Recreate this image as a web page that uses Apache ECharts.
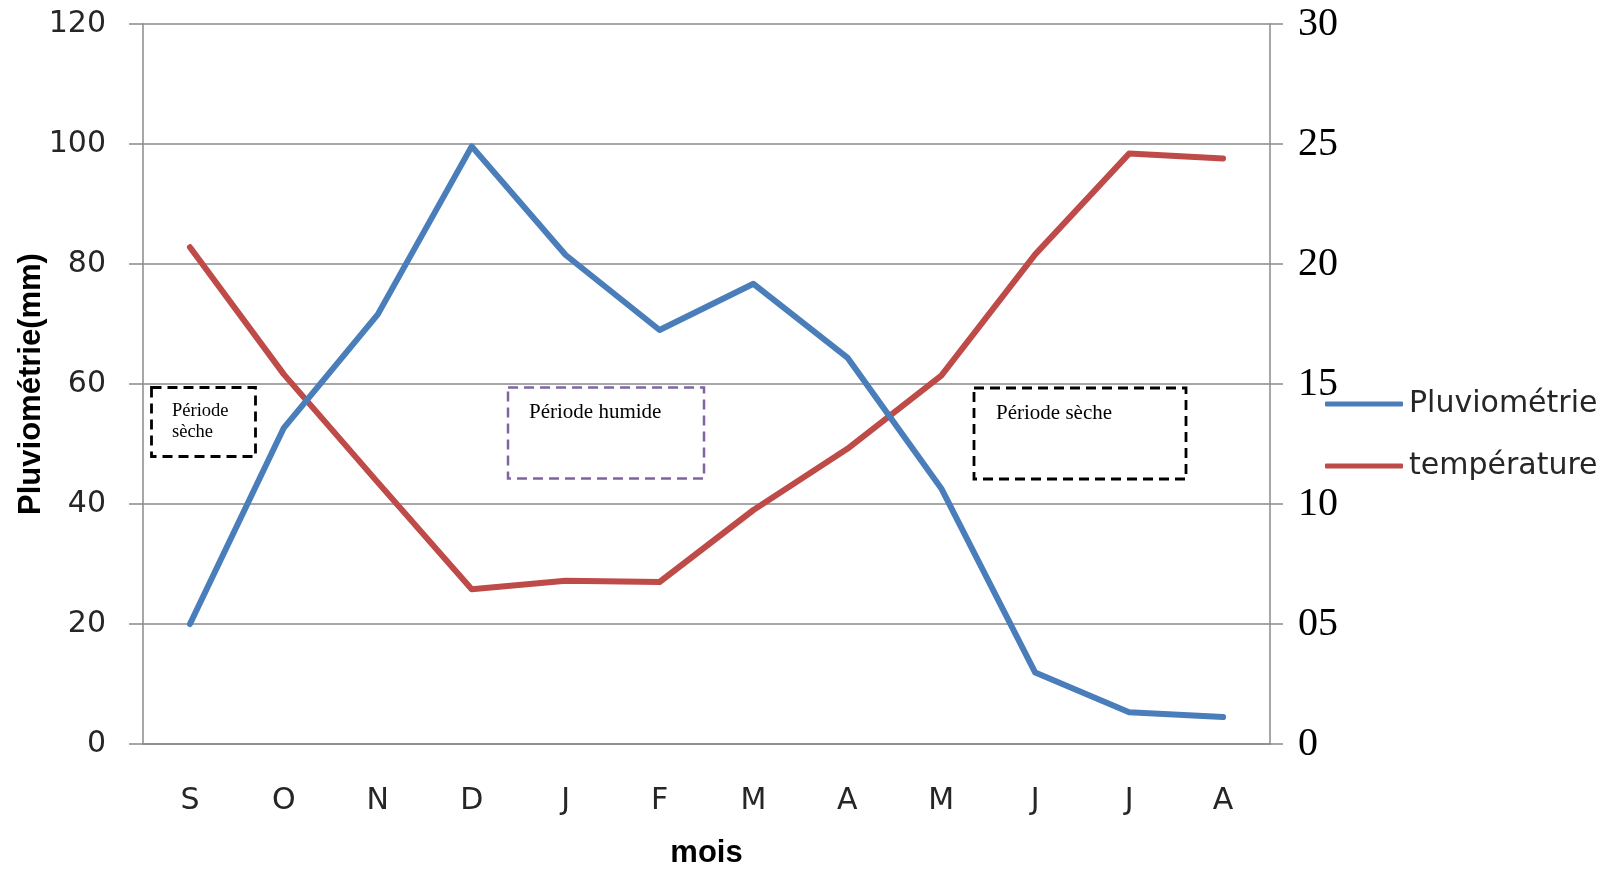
<!DOCTYPE html>
<html>
<head>
<meta charset="utf-8">
<title>Pluviométrie et température</title>
<script src="https://cdn.jsdelivr.net/npm/echarts@6/dist/echarts.min.js"></script>
<style>
  html, body { margin: 0; padding: 0; background: #ffffff; }
  #chart { width: 1619px; height: 869px; }
</style>
</head>
<body>
<div id="chart"></div>
<script>
// Months of the hydrological year, September to August
const mois = ['S', 'O', 'N', 'D', 'J', 'F', 'M', 'A', 'M', 'J', 'J', 'A'];

// Monthly rainfall (mm), left axis
const pluviometrie = [20, 52.7, 71.6, 99.6, 81.5, 69, 76.7, 64.4, 42.6, 11.9, 5.3, 4.5];

// Monthly temperature (°C), right axis
const temperature = [20.7, 15.4, 10.9, 6.45, 6.8, 6.75, 9.75, 12.3, 15.35, 20.4, 24.6, 24.4];

// Right-axis tick labels, in step of 5
const tempTickLabels = ['0', '05', '10', '15', '20', '25', '30'];

const GRID_GRAY = '#8a8a8a';
const SANS = 'DejaVu Sans';
const SANS_BOLD = 'Liberation Sans';
const SERIF = 'Liberation Serif';
const TEXT = '#262626';
const BLUE = '#4a7ebb';
const RED = '#be4b48';

const chart = echarts.init(document.getElementById('chart'), null, { renderer: 'canvas' });

chart.setOption({
  animation: false,
  backgroundColor: '#ffffff',
  grid: { left: 143, right: 349, top: 24, bottom: 125, containLabel: false, outerBoundsMode: 'none' },
  legend: {
    orient: 'vertical',
    left: 1325,
    top: 389,
    padding: 0,
    itemWidth: 78,
    itemHeight: 5,
    itemGap: 32,
    textStyle: { fontFamily: SANS, fontSize: 30, color: TEXT, padding: [0, 0, 0, 1] },
    data: [
      { name: 'Pluviométrie', icon: 'roundRect', itemStyle: { color: BLUE } },
      { name: 'température', icon: 'roundRect', itemStyle: { color: RED } }
    ]
  },
  xAxis: {
    type: 'category',
    data: mois,
    boundaryGap: true,
    name: 'mois',
    nameLocation: 'middle',
    nameGap: 94,
    nameMoveOverlap: false,
    nameTextStyle: { fontFamily: SANS_BOLD, fontSize: 31, fontWeight: 'bold', color: '#000' },
    axisLine: { show: true, lineStyle: { color: GRID_GRAY, width: 1.5 } },
    axisTick: { show: false },
    axisLabel: { fontFamily: SANS, fontSize: 30, color: TEXT, margin: 42 },
    splitLine: { show: false }
  },
  yAxis: [
    {
      type: 'value',
      position: 'left',
      min: 0,
      max: 120,
      interval: 20,
      name: 'Pluviométrie(mm)',
      nameLocation: 'middle',
      nameRotate: 90,
      nameGap: 96,
      nameMoveOverlap: false,
      nameTextStyle: { fontFamily: SANS_BOLD, fontSize: 31, fontWeight: 'bold', color: '#000' },
      axisLine: { show: true, lineStyle: { color: GRID_GRAY, width: 1.5 } },
      axisTick: { show: true, inside: false, length: 14, lineStyle: { color: GRID_GRAY, width: 1.5 } },
      axisLabel: { fontFamily: SANS, fontSize: 30, color: TEXT, margin: 37 },
      splitLine: { show: true, lineStyle: { color: GRID_GRAY, width: 1.5 } }
    },
    {
      type: 'value',
      position: 'right',
      min: 0,
      max: 30,
      interval: 5,
      axisLine: { show: true, lineStyle: { color: GRID_GRAY, width: 1.5 } },
      axisTick: { show: true, inside: false, length: 13, lineStyle: { color: GRID_GRAY, width: 1.5 } },
      axisLabel: {
        fontFamily: SERIF,
        fontSize: 40,
        color: '#000',
        margin: 28,
        formatter: (v) => tempTickLabels[Math.round(v / 5)]
      },
      splitLine: { show: false }
    }
  ],
  series: [
    {
      name: 'Pluviométrie',
      type: 'line',
      yAxisIndex: 0,
      data: pluviometrie,
      symbol: 'none',
      lineStyle: { color: BLUE, width: 6, cap: 'round', join: 'round' },
      itemStyle: { color: BLUE },
      z: 3
    },
    {
      name: 'température',
      type: 'line',
      yAxisIndex: 1,
      data: temperature,
      symbol: 'none',
      lineStyle: { color: RED, width: 6, cap: 'round', join: 'round' },
      itemStyle: { color: RED },
      z: 2
    }
  ],
  graphic: [
    // Dry season box (September)
    {
      type: 'rect', z: 10,
      shape: { x: 151.5, y: 387.5, width: 104, height: 69 },
      style: { fill: 'none', stroke: '#000', lineWidth: 2.8, lineDash: [10, 6] }
    },
    {
      type: 'text', z: 11,
      style: { text: 'Période', x: 172, y: 411, fontFamily: SERIF, fontSize: 18.5, fill: '#000', verticalAlign: 'middle' }
    },
    {
      type: 'text', z: 11,
      style: { text: 'sèche', x: 172, y: 432, fontFamily: SERIF, fontSize: 18.5, fill: '#000', verticalAlign: 'middle' }
    },
    // Wet season box
    {
      type: 'rect', z: 10,
      shape: { x: 508, y: 387.5, width: 196, height: 91 },
      style: { fill: 'none', stroke: '#8064a2', lineWidth: 2.5, lineDash: [10, 6] }
    },
    {
      type: 'text', z: 11,
      style: { text: 'Période humide', x: 529, y: 412, fontFamily: SERIF, fontSize: 21, fill: '#000', verticalAlign: 'middle' }
    },
    // Dry season box (summer)
    {
      type: 'rect', z: 10,
      shape: { x: 974, y: 388, width: 212, height: 91 },
      style: { fill: 'none', stroke: '#000', lineWidth: 2.8, lineDash: [10, 6] }
    },
    {
      type: 'text', z: 11,
      style: { text: 'Période sèche', x: 996, y: 413, fontFamily: SERIF, fontSize: 21, fill: '#000', verticalAlign: 'middle' }
    }
  ]
});
</script>
</body>
</html>
